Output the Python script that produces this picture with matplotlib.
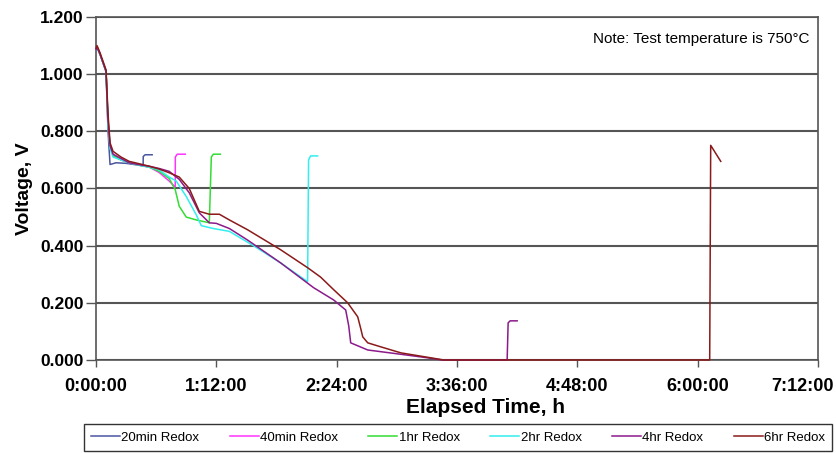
import matplotlib
matplotlib.use("Agg")
import matplotlib.pyplot as plt
from matplotlib.transforms import ScaledTranslation

plt.rcParams['font.family'] = ['Liberation Sans', 'DejaVu Sans']

# elapsed time in hours, voltage in V
t_20min = [0, 0.01, 0.04, 0.08, 0.10, 0.12, 0.14, 0.20, 0.30, 0.40, 0.47,
           0.471, 0.49, 0.56]
v_20min = [1.085, 1.095, 1.07, 1.03, 1.01, 0.80, 0.684, 0.69, 0.688, 0.683, 0.68,
           0.712, 0.718, 0.718]

t_40min = [0, 0.01, 0.04, 0.08, 0.10, 0.12, 0.14, 0.17, 0.25, 0.33, 0.45, 0.53,
           0.63, 0.73, 0.79, 0.791, 0.81, 0.89]
v_40min = [1.085, 1.095, 1.07, 1.03, 1.01, 0.82, 0.75, 0.715, 0.70, 0.69, 0.68, 0.675,
           0.656, 0.626, 0.605, 0.71, 0.72, 0.72]

t_1hr = [0, 0.01, 0.04, 0.08, 0.10, 0.12, 0.14, 0.17, 0.25, 0.33, 0.45, 0.53,
         0.63, 0.73, 0.79, 0.83, 0.90, 1.00, 1.13, 1.15, 1.17, 1.24]
v_1hr = [1.085, 1.095, 1.07, 1.03, 1.01, 0.83, 0.75, 0.715, 0.70, 0.69, 0.68, 0.675,
         0.66, 0.635, 0.596, 0.538, 0.50, 0.49, 0.48, 0.71, 0.72, 0.72]

t_2hr = [0, 0.01, 0.04, 0.08, 0.10, 0.12, 0.14, 0.17, 0.25, 0.33, 0.45, 0.53,
         0.63, 0.73, 0.80, 0.90, 1.00, 1.05, 1.17, 1.33, 1.57, 1.84, 2.11,
         2.12, 2.14, 2.21]
v_2hr = [1.085, 1.095, 1.07, 1.03, 1.01, 0.82, 0.74, 0.71, 0.70, 0.69, 0.68, 0.675,
         0.665, 0.64, 0.626, 0.572, 0.508, 0.47, 0.46, 0.45, 0.40, 0.34, 0.274,
         0.70, 0.714, 0.714]

t_4hr = [0, 0.01, 0.04, 0.08, 0.10, 0.12, 0.14, 0.17, 0.25, 0.33, 0.45, 0.53,
         0.63, 0.73, 0.83, 0.93, 1.03, 1.13, 1.20, 1.33, 1.51, 1.84, 2.17, 2.37,
         2.49, 2.52, 2.54, 2.71, 3.04, 3.30, 3.45, 4.10, 4.11, 4.13, 4.20]
v_4hr = [1.085, 1.095, 1.07, 1.03, 1.01, 0.84, 0.75, 0.72, 0.705, 0.69, 0.682, 0.678,
         0.67, 0.66, 0.632, 0.585, 0.515, 0.48, 0.478, 0.46, 0.42, 0.34, 0.253, 0.21,
         0.175, 0.12, 0.06, 0.035, 0.02, 0.008, 0.0, 0.0, 0.13, 0.137, 0.137]

t_6hr = [0, 0.01, 0.04, 0.08, 0.10, 0.12, 0.14, 0.17, 0.25, 0.33, 0.45, 0.53,
         0.63, 0.73, 0.83, 0.93, 1.03, 1.13, 1.23, 1.33, 1.51, 1.84, 2.11, 2.24,
         2.37, 2.51, 2.61, 2.64, 2.66, 2.71, 2.84, 3.04, 3.47, 6.12, 6.13, 6.23]
v_6hr = [1.09, 1.10, 1.075, 1.035, 1.015, 0.86, 0.76, 0.73, 0.71, 0.695, 0.685, 0.678,
         0.668, 0.655, 0.64, 0.60, 0.52, 0.51, 0.51, 0.49, 0.456, 0.386, 0.323, 0.29,
         0.246, 0.20, 0.151, 0.11, 0.081, 0.06, 0.046, 0.025, 0.0, 0.0, 0.751, 0.695]

labels = ["20min Redox", "40min Redox", "1hr Redox", "2hr Redox", "4hr Redox", "6hr Redox"]
colors = ["#4a56a0", "#ff33ff", "#33dd33", "#33eeee", "#8b1a8b", "#8b1a1a"]

x_ticks = [0, 1.2, 2.4, 3.6, 4.8, 6.0, 7.2]
x_tick_labels = ["0:00:00", "1:12:00", "2:24:00", "3:36:00", "4:48:00", "6:00:00", "7:12:00"]
y_ticks = [0.0, 0.2, 0.4, 0.6, 0.8, 1.0, 1.2]

series = [(t_20min, v_20min), (t_40min, v_40min), (t_1hr, v_1hr),
          (t_2hr, v_2hr), (t_4hr, v_4hr), (t_6hr, v_6hr)]

W, H = 837, 453
fig = plt.figure(figsize=(W / 100, H / 100), dpi=100)
ax = fig.add_axes([96 / W, 1 - 360 / H, 722 / W, 343 / H])

for (t, v), lab, col in zip(series, labels, colors):
    ax.plot(t, v, color=col, lw=1.1, label=lab, zorder=3, clip_on=False)

ax.set_xlim(0, 7.2)
ax.set_ylim(0, 1.2)
ax.set_xticks(x_ticks)
ax.set_xticklabels(x_tick_labels, fontsize=13, fontweight="bold")
ax.set_yticks(y_ticks)
ax.set_yticklabels(["%.3f" % y for y in y_ticks], fontsize=12.5, fontweight="bold")

ax.yaxis.grid(True, color="#555555", lw=1.5)
ax.set_axisbelow(True)
for sp in ax.spines.values():
    sp.set_color("#555555")
    sp.set_linewidth(1.2)

ax.tick_params(axis="x", direction="out", length=5, width=1, color="#555555", pad=8)
ax.tick_params(axis="y", direction="out", length=7, width=1, color="#555555", pad=2)

# last label sits a bit left of its tick so it stays inside the picture
last = ax.xaxis.get_major_ticks()[-1].label1
last.set_transform(last.get_transform() + ScaledTranslation(-0.16, 0, fig.dpi_scale_trans))

ax.set_xlabel("Elapsed Time, h", fontsize=15, fontweight="bold")
ax.xaxis.set_label_coords((486 - 96) / 722, -(398 - 360) / 343)
ax.set_ylabel("Voltage, V", fontsize=14, fontweight="bold")
ax.yaxis.set_label_coords(-(96 - 33) / 722, 0.5)

ax.text(0.988, 0.955, "Note: Test temperature is 750°C", transform=ax.transAxes,
        ha="right", va="top", fontsize=11)

leg = fig.legend(loc="center", bbox_to_anchor=(458 / W, 1 - 437.5 / H), ncol=6,
                 fontsize=9.5, handlelength=2.2, handletextpad=0.1, columnspacing=2.3,
                 frameon=True, fancybox=False, borderpad=0.55)
leg.get_frame().set_edgecolor("black")
leg.get_frame().set_linewidth(1.0)

plt.savefig("out.png", dpi=100)
